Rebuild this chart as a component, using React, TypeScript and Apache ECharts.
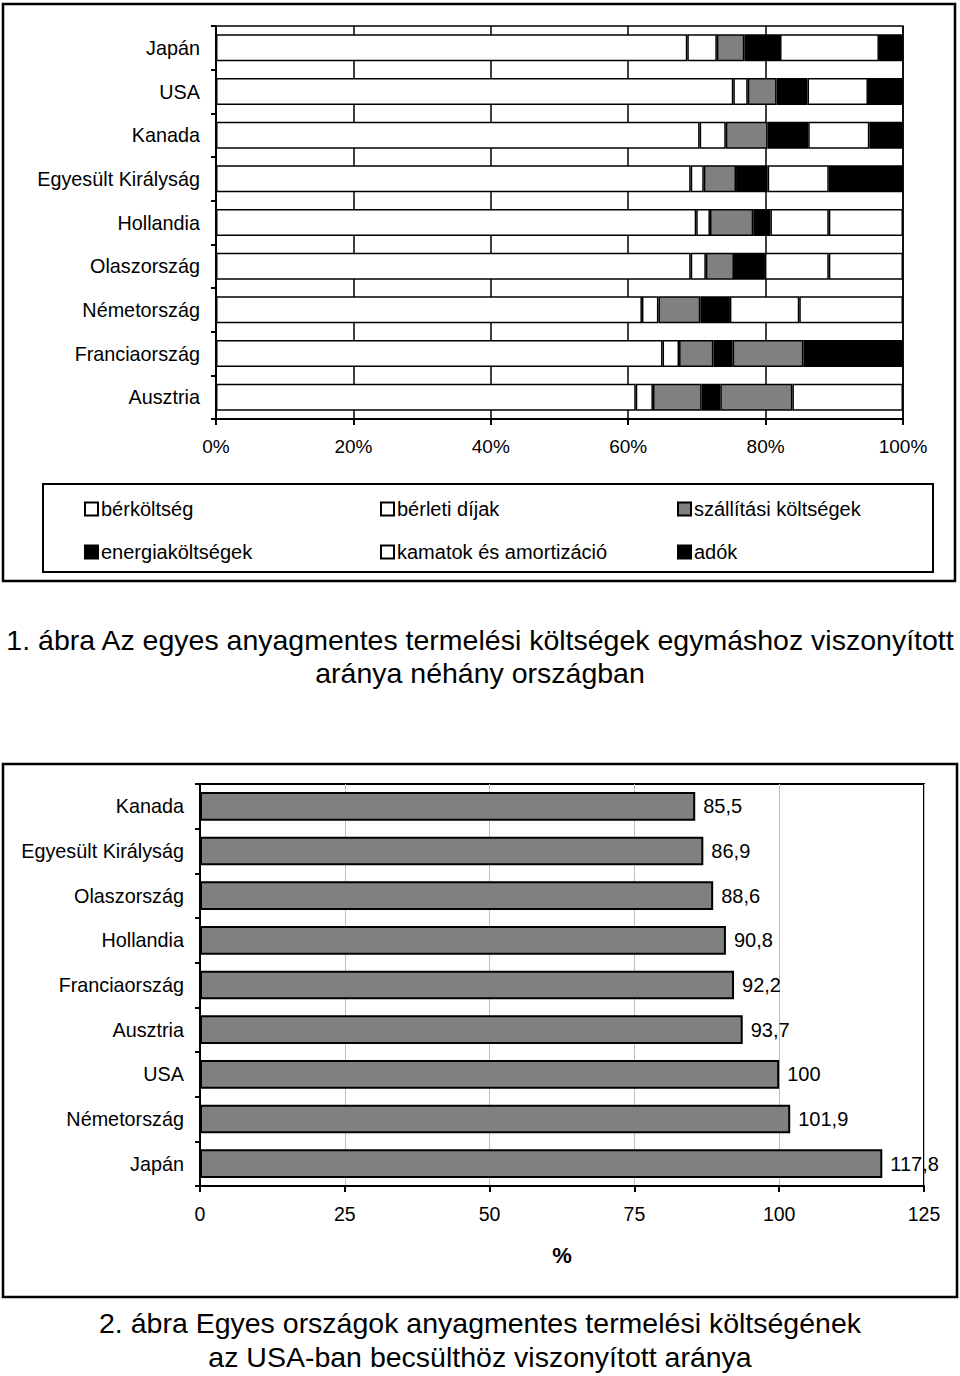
import React, { useEffect, useRef } from 'react';
import * as echarts from 'echarts';

// 1. ábra – költségszerkezet (%), felülről lefelé
const countries1 = [
  'Japán',
  'USA',
  'Kanada',
  'Egyesült Királyság',
  'Hollandia',
  'Olaszország',
  'Németország',
  'Franciaország',
  'Ausztria',
];
const berkoltseg = [68.6, 75.3, 70.4, 69.1, 69.9, 69.1, 62.0, 65.0, 61.1];
const berletiDijak = [4.3, 2.1, 3.8, 1.9, 2.0, 2.2, 2.4, 2.4, 2.5];
const szallitasi = [4.0, 4.2, 6.1, 4.7, 6.3, 4.1, 6.1, 5.0, 7.1];
const energia = [5.2, 4.5, 5.9, 4.6, 2.5, 4.5, 4.3, 2.8, 2.7];
const kamatok = [14.4, 8.8, 8.9, 8.9, 8.5, 9.3, 10.1, 10.3, 10.5];
const adok = [3.5, 5.1, 4.9, 10.8, 10.8, 10.8, 15.1, 14.5, 16.1];
const percentTicks = [0, 20, 40, 60, 80, 100];

// 2. ábra – USA = 100
const countries2 = [
  'Kanada',
  'Egyesült Királyság',
  'Olaszország',
  'Hollandia',
  'Franciaország',
  'Ausztria',
  'USA',
  'Németország',
  'Japán',
];
const relativeCost = [85.5, 86.9, 88.6, 90.8, 92.2, 93.7, 100, 101.9, 117.8];

const WHITE = '#ffffff';
const GRAY = '#808080';
const BLACK = '#000000';

// the scanned figure fills the last two segments differently per row
const kamatokFill = [WHITE, WHITE, WHITE, WHITE, WHITE, WHITE, WHITE, GRAY, GRAY];
const adokFill = [BLACK, BLACK, BLACK, BLACK, WHITE, WHITE, WHITE, BLACK, WHITE];

const FONT = "'Liberation Sans', Arial, sans-serif";

const Chart: React.FC = () => {
  const chartRef = useRef<HTMLDivElement | null>(null);

  useEffect(() => {
    if (!chartRef.current) return;
    const myChart = echarts.init(chartRef.current, undefined, { renderer: 'svg' });

    const stackSeries = (
      name: string,
      values: number[],
      color: string,
      fills?: string[]
    ): echarts.BarSeriesOption => ({
      name,
      type: 'bar',
      stack: 'total',
      xAxisIndex: 0,
      yAxisIndex: 0,
      barCategoryGap: '38%',
      itemStyle: { color, borderColor: BLACK, borderWidth: 1.5 },
      data: values.map((v, i) =>
        fills ? { value: v, itemStyle: { color: fills[i] } } : v
      ),
    });

    const legendBase = {
      orient: 'vertical' as const,
      top: 494,
      itemWidth: 13,
      itemHeight: 13,
      itemGap: 23,
      icon: 'rect',
      textStyle: { fontSize: 20, color: BLACK, fontFamily: FONT, padding: [0, 0, 0, -2] },
    };

    const caption = (text: string, y: number) => ({
      type: 'text' as const,
      x: 480,
      y,
      style: {
        text,
        fontSize: 28.5,
        fontFamily: FONT,
        fill: BLACK,
        align: 'center' as const,
        verticalAlign: 'middle' as const,
      },
    });

    const option: echarts.EChartsOption = {
      animation: false,
      textStyle: { fontFamily: FONT },
      legend: [
        { ...legendBase, left: 79, data: ['bérköltség', 'energiaköltségek'] },
        { ...legendBase, left: 375, data: ['bérleti díjak', 'kamatok és amortizáció'] },
        { ...legendBase, left: 672, data: ['szállítási költségek', 'adók'] },
      ],
      grid: [
        {
          left: 216,
          right: 57,
          top: 26,
          height: 393,
          show: true,
          borderColor: BLACK,
          borderWidth: 1.5,
        },
        {
          left: 200,
          right: 36,
          top: 784,
          height: 402,
          show: true,
          borderColor: BLACK,
          borderWidth: 2,
        },
      ],
      xAxis: [
        {
          type: 'value',
          gridIndex: 0,
          min: percentTicks[0],
          max: percentTicks[percentTicks.length - 1],
          interval: 20,
          axisLine: { show: true, lineStyle: { color: BLACK, width: 2 } },
          axisTick: { show: true, length: 6, lineStyle: { color: BLACK, width: 2 } },
          axisLabel: { formatter: '{value}%', fontSize: 19, color: BLACK, margin: 18 },
          splitLine: { show: true, lineStyle: { color: BLACK, width: 1.5 } },
        },
        {
          type: 'value',
          gridIndex: 1,
          min: 0,
          max: 125,
          interval: 25,
          name: '%',
          nameLocation: 'middle',
          nameGap: 58,
          nameTextStyle: { fontSize: 22, fontWeight: 'bold', color: BLACK },
          axisLine: { show: true, lineStyle: { color: BLACK, width: 2 } },
          axisTick: { show: true, length: 6, lineStyle: { color: BLACK, width: 2 } },
          axisLabel: { fontSize: 19.5, color: BLACK, margin: 18 },
          splitLine: { show: true, lineStyle: { color: '#c0c0c0', width: 1 } },
        },
      ],
      yAxis: [
        {
          type: 'category',
          gridIndex: 0,
          inverse: true,
          data: countries1,
          axisLine: { show: true, lineStyle: { color: BLACK, width: 2 } },
          axisTick: { show: true, length: 5, lineStyle: { color: BLACK, width: 2 } },
          axisLabel: { fontSize: 19.8, color: BLACK, margin: 16 },
        },
        {
          type: 'category',
          gridIndex: 1,
          inverse: true,
          data: countries2,
          axisLine: { show: true, lineStyle: { color: BLACK, width: 2 } },
          axisTick: { show: true, length: 5, lineStyle: { color: BLACK, width: 2 } },
          axisLabel: { fontSize: 19.8, color: BLACK, margin: 16 },
        },
      ],
      series: [
        stackSeries('bérköltség', berkoltseg, WHITE),
        stackSeries('bérleti díjak', berletiDijak, WHITE),
        stackSeries('szállítási költségek', szallitasi, GRAY),
        stackSeries('energiaköltségek', energia, BLACK),
        stackSeries('kamatok és amortizáció', kamatok, WHITE, kamatokFill),
        stackSeries('adók', adok, BLACK, adokFill),
        {
          name: 'arány',
          type: 'bar',
          xAxisIndex: 1,
          yAxisIndex: 1,
          barCategoryGap: '36%',
          itemStyle: { color: GRAY, borderColor: BLACK, borderWidth: 2 },
          label: {
            show: true,
            position: 'right',
            distance: 8,
            fontSize: 20,
            color: BLACK,
            formatter: (p: any) => String(p.value).replace('.', ','),
          },
          data: relativeCost,
        },
      ],
      graphic: [
        {
          type: 'rect',
          shape: { x: 3, y: 4, width: 952, height: 577 },
          style: { fill: 'none', stroke: BLACK, lineWidth: 2.5 },
          silent: true,
        },
        {
          type: 'rect',
          shape: { x: 43, y: 484, width: 890, height: 88 },
          style: { fill: 'none', stroke: BLACK, lineWidth: 2 },
          silent: true,
        },
        {
          type: 'rect',
          shape: { x: 3, y: 764, width: 954, height: 533 },
          style: { fill: 'none', stroke: BLACK, lineWidth: 2.5 },
          silent: true,
        },
        caption('1. ábra Az egyes anyagmentes termelési költségek egymáshoz viszonyított', 640),
        caption('aránya néhány országban', 673),
        caption('2. ábra Egyes országok anyagmentes termelési költségének', 1323),
        caption('az USA-ban becsülthöz viszonyított aránya', 1357),
      ],
    };

    myChart.setOption(option);

    return () => {
      myChart.dispose();
    };
  }, []);

  return (
    <div
      ref={chartRef}
      style={{ position: 'absolute', left: 0, top: 0, width: '960px', height: '1376px', background: '#fff' }}
    />
  );
};

export default function App() {
  return <Chart />;
}
